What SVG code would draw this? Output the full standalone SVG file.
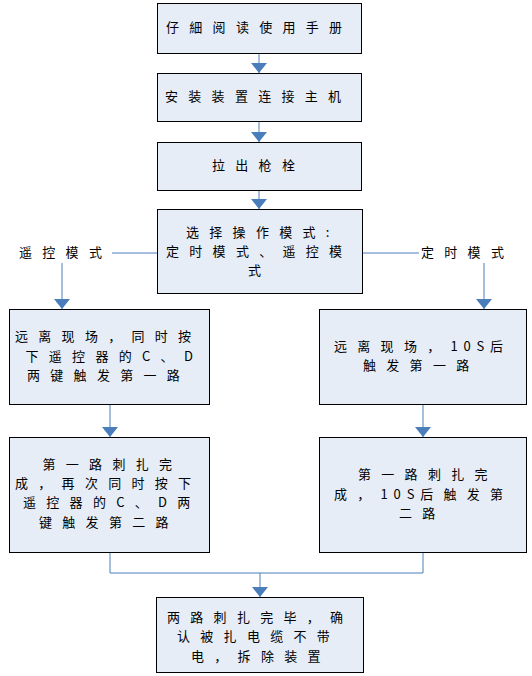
<svg xmlns="http://www.w3.org/2000/svg" width="532" height="676" viewBox="0 0 532 676">
<style>
.box{fill:#E6EDF7;stroke:#000;stroke-width:1}
.t{font-family:"Noto Sans CJK SC","Noto Sans CJK JP",sans-serif;font-size:13px;fill:#000;letter-spacing:10.3px}
.c{fill:none;stroke:#4A7EBB;stroke-width:1}
.d{letter-spacing:5.8px}
</style>
<defs>
<marker id="ah" markerUnits="userSpaceOnUse" markerWidth="10" markerHeight="16" refX="10" refY="8" orient="auto" viewBox="0 0 10 16">
<path d="M0,0 L10,8 L0,16 z" fill="#4A7EBB"/>
</marker>
</defs>
<rect width="532" height="676" fill="#fff"/>
<g id="connectors">
<line class="c" x1="259" y1="53" x2="259" y2="73" marker-end="url(#ah)"/>
<line class="c" x1="259" y1="121" x2="259" y2="142" marker-end="url(#ah)"/>
<line class="c" x1="259" y1="190" x2="259" y2="209" marker-end="url(#ah)"/>
<line class="c" x1="157" y1="253" x2="112" y2="253"/>
<line class="c" x1="62" y1="263" x2="62" y2="309" marker-end="url(#ah)"/>
<line class="c" x1="363" y1="253" x2="419" y2="253"/>
<line class="c" x1="484" y1="263" x2="484" y2="309" marker-end="url(#ah)"/>
<line class="c" x1="110" y1="405" x2="110" y2="437" marker-end="url(#ah)"/>
<line class="c" x1="423" y1="405" x2="423" y2="437" marker-end="url(#ah)"/>
<polyline class="c" points="110,553 110,573 423,573 423,553"/>
<line class="c" x1="260" y1="573" x2="260" y2="597" marker-end="url(#ah)"/>
</g>
<g id="n1"><rect class="box" x="157.5" y="3.5" width="204" height="50"/>
<text class="t" x="166" y="32">仔細阅读使用手册</text></g>
<g id="n2"><rect class="box" x="157.5" y="73.5" width="204" height="48"/>
<text class="t" x="165" y="101">安装装置连接主机</text></g>
<g id="n3"><rect class="box" x="157.5" y="142.5" width="204" height="48"/>
<text class="t" x="212" y="170">拉出枪栓</text></g>
<g id="n4"><rect class="box" x="157.5" y="209.5" width="205" height="84"/>
<text class="t" x="186" y="237">选择操作模式:</text>
<text class="t" x="166" y="256">定时模式、遥控模</text>
<text class="t" x="248" y="275">式</text></g>
<g id="lbl-left"><text class="t" x="19" y="257">遥控模式</text></g>
<g id="lbl-right"><text class="t" x="421" y="257">定时模式</text></g>
<g id="n5"><rect class="box" x="9.5" y="309.5" width="200" height="95"/>
<text class="t" x="15" y="341">远离现场，同时按</text>
<text class="t" x="25.5" y="361">下遥控器的C、D</text>
<text class="t" x="27" y="380">两键触发第一路</text></g>
<g id="n6"><rect class="box" x="319.5" y="309.5" width="207" height="95"/>
<text class="t" x="334" y="351">远离现场，<tspan class="d">10S</tspan>后</text>
<text class="t" x="363" y="370">触发第一路</text></g>
<g id="n7"><rect class="box" x="9.5" y="437.5" width="200" height="115"/>
<text class="t" x="42.5" y="469">第一路刺扎完</text>
<text class="t" x="15" y="488">成，再次同时按下</text>
<text class="t" x="23" y="507">遥控器的C、D两</text>
<text class="t" x="39" y="527">键触发第二路</text></g>
<g id="n8"><rect class="box" x="319.5" y="437.5" width="207" height="115"/>
<text class="t" x="358" y="479">第一路刺扎完</text>
<text class="t" x="334" y="499">成，<tspan class="d">10S</tspan>后触发第</text>
<text class="t" x="399" y="518">二路</text></g>
<g id="n9"><rect class="box" x="156.5" y="597.5" width="207" height="75"/>
<text class="t" x="167" y="622">两路刺扎完毕，确</text>
<text class="t" x="177" y="641">认被扎电缆不带</text>
<text class="t" x="191" y="661">电，拆除装置</text></g>
</svg>
